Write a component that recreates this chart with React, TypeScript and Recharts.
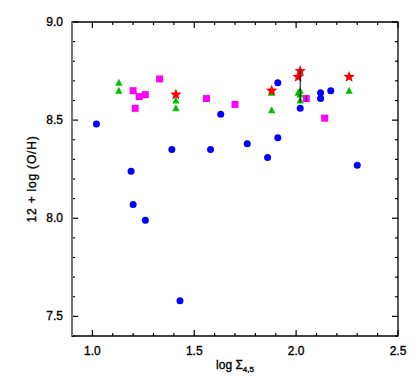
import { ScatterChart, Scatter, XAxis, YAxis, ReferenceArea } from 'recharts';

// x = log Σ4,5, y = 12 + log(O/H)
const blueX = [1.02, 1.19, 1.2, 1.26, 1.39, 1.43, 1.58, 1.63, 1.76, 1.86, 1.91, 1.91, 2.02, 2.12, 2.12, 2.17, 2.3];
const blueY = [8.48, 8.24, 8.07, 7.99, 8.35, 7.58, 8.35, 8.53, 8.38, 8.31, 8.69, 8.41, 8.56, 8.64, 8.61, 8.65, 8.27];

const magentaX = [1.2, 1.21, 1.23, 1.26, 1.33, 1.56, 1.7, 2.05, 2.14];
const magentaY = [8.65, 8.56, 8.62, 8.63, 8.71, 8.61, 8.58, 8.61, 8.51];

const greenX = [1.13, 1.13, 1.41, 1.41, 1.88, 1.88, 2.01, 2.02, 2.02, 2.02, 2.26];
const greenY = [8.69, 8.65, 8.6, 8.56, 8.64, 8.55, 8.64, 8.65, 8.63, 8.6, 8.65];

const redX = [1.41, 1.88, 2.01, 2.02, 2.26];
const redY = [8.63, 8.65, 8.72, 8.75, 8.72];

// thin black bars seen on two points
const barStar = [
    { x: 2.02, y: 8.755 },
    { x: 2.02, y: 8.59 },
];
const barSquare = [
    { x: 2.05, y: 8.625 },
    { x: 2.05, y: 8.595 },
];

const xTicks = [0.9, 1.0, 1.1, 1.2, 1.3, 1.4, 1.5, 1.6, 1.7, 1.8, 1.9, 2.0, 2.1, 2.2, 2.3, 2.4, 2.5];
const xLabels = ['1.0', '1.5', '2.0', '2.5'];
const yTicks = [7.4, 7.5, 7.6, 7.7, 7.8, 7.9, 8.0, 8.1, 8.2, 8.3, 8.4, 8.5, 8.6, 8.7, 8.8, 8.9, 9.0];
const yLabels = ['7.5', '8.0', '8.5', '9.0'];

const zip = (xs: number[], ys: number[]) => xs.map((x, i) => ({ x, y: ys[i] }));

const W = 420;
const H = 382;
const M = { top: 22, right: 22, bottom: 0, left: 0 };
const YW = 72;
const XH = 46;
const PW = W - M.left - M.right - YW;
const PH = H - M.top - M.bottom - XH;
const FONT = '"Liberation Sans", Arial, sans-serif';
const TXT = { fontFamily: FONT, fill: '#000', stroke: '#000', strokeWidth: 0.35 };

const XTick = (props: any) => {
    const { x, y, payload } = props;
    const label = payload.value.toFixed(1);
    const major = xLabels.includes(label);
    const len = major ? 6 : 3;
    return (
        <g>
            <line x1={x} x2={x} y1={y} y2={y - len} stroke="#000" strokeWidth={1.2} />
            <line x1={x} x2={x} y1={y - PH} y2={y - PH + len} stroke="#000" strokeWidth={1.2} />
            {major && (
                <text x={x} y={y + 19} textAnchor="middle" fontSize={12} {...TXT}>
                    {label}
                </text>
            )}
        </g>
    );
};

const YTick = (props: any) => {
    const { x, y, payload } = props;
    const label = payload.value.toFixed(1);
    const major = yLabels.includes(label);
    const len = major ? 6 : 3;
    return (
        <g>
            <line x1={x} x2={x + len} y1={y} y2={y} stroke="#000" strokeWidth={1.2} />
            <line x1={x + PW} x2={x + PW - len} y1={y} y2={y} stroke="#000" strokeWidth={1.2} />
            {major && (
                <text x={x - 9} y={y + 4} textAnchor="end" fontSize={12} {...TXT}>
                    {label}
                </text>
            )}
        </g>
    );
};

const Dot = ({ cx, cy }: any) => <circle cx={cx} cy={cy} r={3.5} fill="#0000ff" />;
const Sq = ({ cx, cy }: any) => <rect x={cx - 3.5} y={cy - 3.5} width={7} height={7} fill="#ff00ff" />;
const Tri = ({ cx, cy }: any) => (
    <polygon points={`${cx},${cy - 4} ${cx - 3.6},${cy + 3} ${cx + 3.6},${cy + 3}`} fill="#00c000" />
);
const Star = ({ cx, cy }: any) => {
    const pts: string[] = [];
    for (let i = 0; i < 10; i++) {
        const r = i % 2 === 0 ? 6 : 2.6;
        const a = -Math.PI / 2 + (i * Math.PI) / 5;
        pts.push(`${cx + r * Math.cos(a)},${cy + r * Math.sin(a)}`);
    }
    return <polygon points={pts.join(' ')} fill="#ff0000" />;
};
const NoShape = () => <g />;

export default function App() {
    return (
        <div style={{ position: 'absolute', left: 0, top: 0, width: W, height: H, background: '#fff' }}>
            <ScatterChart width={W} height={H} margin={M}>
                <XAxis
                    type="number"
                    dataKey="x"
                    domain={[0.9, 2.5]}
                    ticks={xTicks}
                    interval={0}
                    height={XH}
                    tickSize={0}
                    tickMargin={0}
                    tickLine={false}
                    axisLine={false}
                    tick={<XTick />}
                    allowDataOverflow
                />
                <YAxis
                    type="number"
                    dataKey="y"
                    domain={[7.4, 9.0]}
                    ticks={yTicks}
                    interval={0}
                    width={YW}
                    tickSize={0}
                    tickMargin={0}
                    tickLine={false}
                    axisLine={false}
                    tick={<YTick />}
                    allowDataOverflow
                />
                <ReferenceArea x1={0.9} x2={2.5} y1={7.4} y2={9.0} fill="none" stroke="#000" strokeWidth={1.3} />
                <Scatter data={zip(blueX, blueY)} shape={<Dot />} isAnimationActive={false} />
                <Scatter data={zip(magentaX, magentaY)} shape={<Sq />} isAnimationActive={false} />
                <Scatter data={zip(greenX, greenY)} shape={<Tri />} isAnimationActive={false} />
                <Scatter data={barSquare} line={{ stroke: '#000', strokeWidth: 1 }} shape={<NoShape />} isAnimationActive={false} />
                <Scatter data={zip(redX, redY)} shape={<Star />} isAnimationActive={false} />
                <Scatter data={barStar} line={{ stroke: '#000', strokeWidth: 1 }} shape={<NoShape />} isAnimationActive={false} />
            </ScatterChart>
            <svg width={W} height={H} style={{ position: 'absolute', left: 0, top: 0, pointerEvents: 'none' }}>
                <line x1={YW + M.left} x2={YW + M.left} y1={M.top} y2={M.top + PH} stroke="#777" strokeWidth={2} />
                <text x={M.left + YW + PW / 2} y={369} textAnchor="middle" fontSize={12} {...TXT}>
                    log Σ<tspan fontSize={8} dy={3}>4,5</tspan>
                </text>
                <text
                    transform={`translate(36, ${M.top + PH / 2}) rotate(-90)`}
                    textAnchor="middle"
                    fontSize={12}
                    letterSpacing={0.8}
                    {...TXT}
                >
                    12 + log (O/H)
                </text>
            </svg>
        </div>
    );
}
